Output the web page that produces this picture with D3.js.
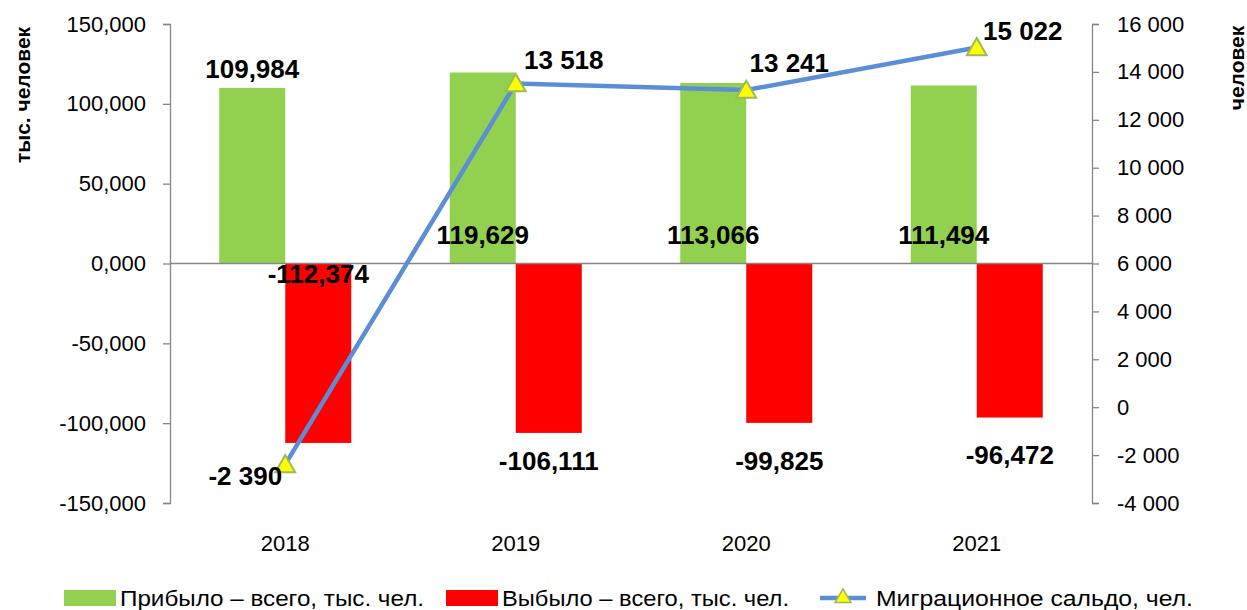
<!DOCTYPE html>
<html>
<head>
<meta charset="utf-8">
<script src="https://cdn.jsdelivr.net/npm/d3@7"></script>
<style>
  body { margin: 0; background: #fff; }
  svg { display: block; font-family: "Liberation Sans", Arial, sans-serif; }
</style>
</head>
<body>
<div id="chart"></div>
<script>
// Data
const years = ['2018', '2019', '2020', '2021'];
const arrived = [109.984, 119.629, 113.066, 111.494];      // тыс. чел.
const departed = [-112.374, -106.111, -99.825, -96.472];   // тыс. чел.
const balance = [-2390, 13518, 13241, 15022];              // чел.
const leftTicks = [-150, -100, -50, 0, 50, 100, 150];
const rightTicks = [-4000, -2000, 0, 2000, 4000, 6000, 8000, 10000, 12000, 14000, 16000];
const seriesNames = ['Прибыло – всего, тыс. чел.', 'Выбыло – всего, тыс. чел.', 'Миграционное сальдо, чел.'];

const width = 1247, height = 610;
const margin = { top: 24, right: 155, bottom: 107, left: 170 };
const innerW = width - margin.left - margin.right;
const innerH = height - margin.top - margin.bottom;

const colors = { in: '#92D050', out: '#FF0000', line: '#5B8ED6', marker: '#FFFF00', markerStroke: '#9BBB59', axis: '#868686' };

const ru = d3.formatLocale({ decimal: ',', thousands: '\u00a0', grouping: [3], currency: ['', ''], minus: '-' });
const fmtK = ru.format(',.3f');
const fmtN = ru.format(',d');

const svg = d3.select('#chart').append('svg')
  .attr('width', width)
  .attr('height', height);

const g = svg.append('g').attr('transform', `translate(${margin.left},${margin.top})`);

// Scales
const x0 = d3.scaleBand().domain(years).range([0, innerW]).paddingInner(0).paddingOuter(0);
const x1 = d3.scaleBand().domain(['in', 'out']).range([0, x0.bandwidth()]).paddingInner(0).paddingOuter(0.746);
const yL = d3.scaleLinear().domain([-150, 150]).range([innerH, 0]);
const yR = d3.scaleLinear().domain([-4000, 16000]).range([innerH, 0]);

// Left axis
const axL = g.append('g')
  .call(d3.axisLeft(yL).tickValues(leftTicks).tickSize(7).tickPadding(17).tickFormat(fmtK));
axL.selectAll('text').style('font-size', '22px').attr('fill', '#000');

// Right axis
const axR = g.append('g')
  .attr('transform', `translate(${innerW},0)`)
  .call(d3.axisRight(yR).tickValues(rightTicks).tickSize(7).tickPadding(18).tickFormat(fmtN));
axR.selectAll('text').style('font-size', '22px').attr('fill', '#000');

[axL, axR].forEach(ax => {
  ax.select('.domain').attr('stroke', colors.axis).attr('stroke-width', 1.3);
  ax.selectAll('.tick line').attr('stroke', colors.axis).attr('stroke-width', 1.3);
});

// Bars
const groups = g.append('g').selectAll('g')
  .data(years)
  .join('g')
  .attr('transform', d => `translate(${x0(d)},0)`);

groups.append('rect')
  .attr('x', x1('in'))
  .attr('width', x1.bandwidth())
  .attr('y', (d, i) => yL(arrived[i]))
  .attr('height', (d, i) => yL(0) - yL(arrived[i]))
  .attr('fill', colors.in);

groups.append('rect')
  .attr('x', x1('out'))
  .attr('width', x1.bandwidth())
  .attr('y', yL(0))
  .attr('height', (d, i) => yL(departed[i]) - yL(0))
  .attr('fill', colors.out);

// Category axis along zero
g.append('line')
  .attr('x1', 0).attr('x2', innerW)
  .attr('y1', yL(0)).attr('y2', yL(0))
  .attr('stroke', colors.axis).attr('stroke-width', 1.3);

g.append('g').selectAll('text')
  .data(years)
  .join('text')
  .attr('x', d => x0(d) + x0.bandwidth() / 2)
  .attr('y', innerH + 48)
  .attr('text-anchor', 'middle')
  .style('font-size', '22px')
  .text(d => d);

// Line
const cx = i => x0(years[i]) + x0.bandwidth() / 2;
const line = d3.line().x((d, i) => cx(i)).y(d => yR(d));

g.append('path')
  .datum(balance)
  .attr('d', line)
  .attr('fill', 'none')
  .attr('stroke', colors.line)
  .attr('stroke-width', 4.5);

const tri = d3.symbol().type(d3.symbolTriangle).size(170);
g.append('g').selectAll('path')
  .data(balance)
  .join('path')
  .attr('transform', (d, i) => `translate(${cx(i)},${yR(d) + 2})`)
  .attr('d', tri)
  .attr('fill', colors.marker)
  .attr('stroke', colors.markerStroke)
  .attr('stroke-width', 2);

// Data labels
const lblStyle = sel => sel
  .attr('text-anchor', 'middle')
  .attr('dominant-baseline', 'central')
  .style('font-size', '26px')
  .style('font-weight', 'bold');

const barCx = (i, key) => x0(years[i]) + x1(key) + x1.bandwidth() / 2;

// arrived labels: first above bar, others just above the zero line
g.append('g').selectAll('text')
  .data(arrived)
  .join('text')
  .call(lblStyle)
  .attr('x', (d, i) => barCx(i, 'in'))
  .attr('y', (d, i) => i === 0 ? yL(d) - 19 : yL(0) - 29)
  .text(d => fmtK(d));

// departed labels: first just below zero, others below bar
const outDy = [0, 28, 38, 37];
g.append('g').selectAll('text')
  .data(departed)
  .join('text')
  .call(lblStyle)
  .attr('x', (d, i) => barCx(i, 'out'))
  .attr('y', (d, i) => i === 0 ? yL(0) + 10 : yL(d) + outDy[i])
  .text(d => fmtK(d));

const lineDx = [-40, 48, 43, 46];
const lineDy = [12, -23, -27, -16];
g.append('g').selectAll('text')
  .data(balance)
  .join('text')
  .call(lblStyle)
  .attr('x', (d, i) => cx(i) + lineDx[i])
  .attr('y', (d, i) => yR(d) + lineDy[i])
  .text(d => fmtN(d));

// Axis titles
svg.append('text')
  .attr('transform', `translate(22,${95}) rotate(-90)`)
  .attr('text-anchor', 'middle')
  .attr('dominant-baseline', 'central')
  .style('font-size', '21px')
  .style('font-weight', 'bold')
  .text('тыс. человек');

svg.append('text')
  .attr('transform', `translate(1236,${68}) rotate(-90)`)
  .attr('text-anchor', 'middle')
  .attr('dominant-baseline', 'central')
  .style('font-size', '21px')
  .style('font-weight', 'bold')
  .text('человек');

// Legend
const legendY = 598;
const legend = svg.append('g');
const legendItems = [
  { x: 64, text: seriesNames[0], len: 304, type: 'rect', color: colors.in },
  { x: 446, text: seriesNames[1], len: 287, type: 'rect', color: colors.out },
  { x: 820, text: seriesNames[2], len: 317, type: 'line' }
];
legendItems.forEach(it => {
  if (it.type === 'rect') {
    legend.append('rect')
      .attr('x', it.x).attr('y', legendY - 8)
      .attr('width', 52).attr('height', 16)
      .attr('fill', it.color);
  } else {
    legend.append('line')
      .attr('x1', it.x).attr('x2', it.x + 46)
      .attr('y1', legendY).attr('y2', legendY)
      .attr('stroke', colors.line).attr('stroke-width', 4.5);
    legend.append('path')
      .attr('transform', `translate(${it.x + 23},${legendY})`)
      .attr('d', d3.symbol().type(d3.symbolTriangle).size(110))
      .attr('fill', colors.marker)
      .attr('stroke', colors.markerStroke)
      .attr('stroke-width', 1.5);
  }
  legend.append('text')
    .attr('x', it.x + 56)
    .attr('y', legendY)
    .attr('dominant-baseline', 'central')
    .attr('textLength', it.len)
    .attr('lengthAdjust', 'spacingAndGlyphs')
    .style('font-size', '22px')
    .text(it.text);
});
</script>
</body>
</html>
